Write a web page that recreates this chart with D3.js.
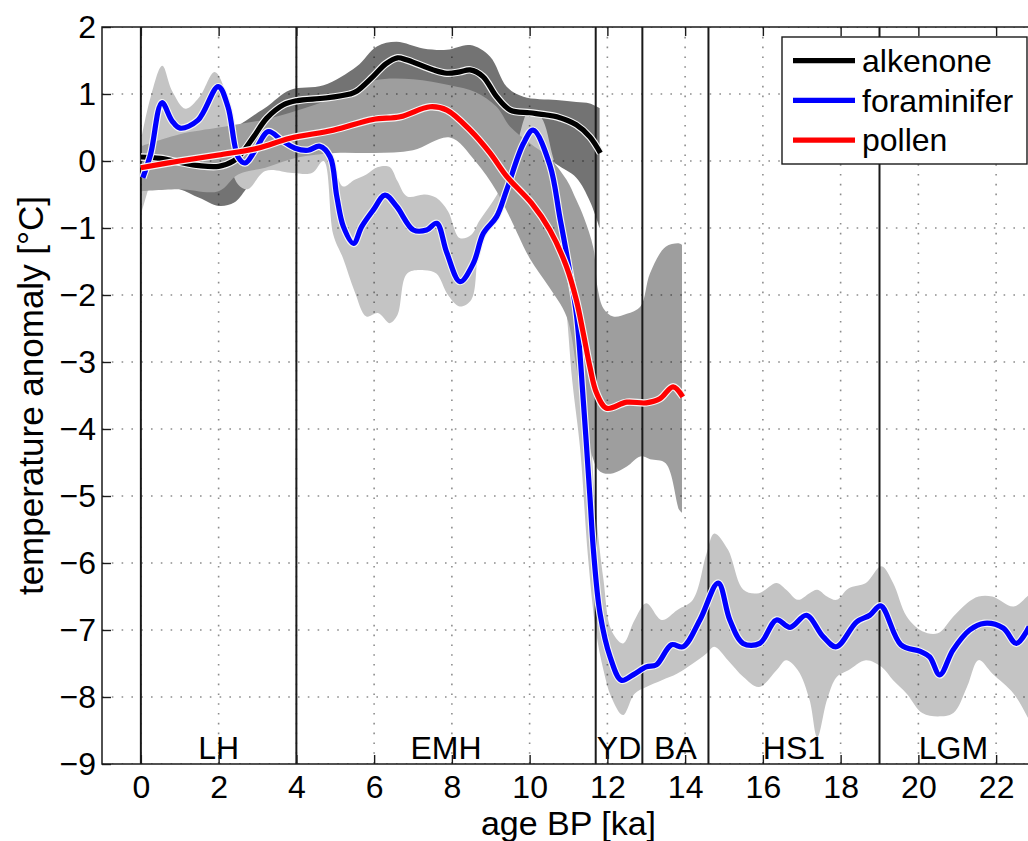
<!DOCTYPE html>
<html>
<head>
<meta charset="utf-8">
<script src="https://cdn.jsdelivr.net/npm/d3@7"></script>
<style>
  body { margin: 0; background: #fff; }
  svg { display: block; }
  text { font-family: "Liberation Sans", Arial, Helvetica, sans-serif; fill: #000; }
</style>
</head>
<body>
<svg id="chart" width="1028" height="841"></svg>
<script>
// ---- axis ticks ----
const xTicks = [0, 2, 4, 6, 8, 10, 12, 14, 16, 18, 20, 22];
const yTicks = [-9, -8, -7, -6, -5, -4, -3, -2, -1, 0, 1, 2];

// ---- climate periods ----
const periodBounds = [0, 4, 11.7, 12.9, 14.6, 19];
const periodNames = ["LH", "EMH", "YD", "BA", "HS1", "LGM"];
const periodCenters = [2, 7.85, 12.3, 13.75, 16.8, 20.9];

// ---- alkenone record (age ka BP, anomaly °C) ----
const alkAge  = [0, 0.5, 1.0, 1.5, 2.0, 2.38, 2.6, 2.9, 3.24, 3.67, 4.01, 4.74, 5.38, 5.55, 5.97, 6.3, 6.6, 6.83, 7.2, 7.52, 7.87, 8.2, 8.47, 8.8, 9.15, 9.5, 10.0, 10.4, 10.7, 11.2, 11.55, 11.82];
const alkTemp = [0.06, 0.04, -0.02, -0.07, -0.08, 0.0, 0.12, 0.36, 0.64, 0.84, 0.9, 0.94, 1.0, 1.04, 1.26, 1.45, 1.54, 1.51, 1.43, 1.36, 1.31, 1.33, 1.36, 1.26, 0.96, 0.76, 0.72, 0.69, 0.66, 0.54, 0.36, 0.12];
const alkBandAge = [0, 0.5, 1, 1.5, 2, 2.4, 2.7, 3.0, 3.24, 3.84, 4.7, 5.55, 6.07, 6.58, 7.26, 7.87, 8.47, 8.98, 9.41, 9.84, 10.69, 11.2, 11.55, 11.8];
const alkBandHi  = [0.28, 0.3, 0.35, 0.4, 0.45, 0.5, 0.6, 0.72, 0.81, 1.06, 1.13, 1.41, 1.71, 1.78, 1.68, 1.66, 1.73, 1.56, 1.11, 0.96, 0.91, 0.88, 0.86, 0.79];
const alkBandLo  = [-0.35, -0.38, -0.42, -0.55, -0.67, -0.62, -0.42, -0.15, 0.1, 0.4, 0.5, 0.6, 0.8, 0.95, 0.95, 0.95, 0.9, 0.55, 0.4, 0.3, -0.05, -0.25, -0.6, -1.0];

// ---- foraminifer record ----
const forAge  = [0.05, 0.25, 0.54, 0.8, 1.01, 1.47, 1.99, 2.24, 2.5, 2.68, 2.94, 3.28, 3.62, 3.97, 4.3, 4.6, 4.87, 5.04, 5.21, 5.47, 5.68, 5.98, 6.28, 6.58, 7.01, 7.35, 7.61, 7.87, 8.21, 8.55, 8.81, 9.15, 9.41, 9.84, 10.09, 10.52, 10.78, 11.04, 11.21, 11.38, 11.55, 11.64, 11.81, 12.07, 12.36, 12.66, 13.0, 13.26, 13.65, 13.95, 14.38, 14.85, 15.15, 15.49, 15.92, 16.35, 16.7, 17.12, 17.55, 17.89, 18.41, 18.75, 19.03, 19.55, 20.05, 20.29, 20.55, 20.89, 21.32, 21.7, 22.18, 22.52, 22.85];
const forTemp = [-0.25, 0.1, 0.87, 0.6, 0.49, 0.61, 1.11, 0.81, 0.06, -0.03, 0.16, 0.44, 0.31, 0.19, 0.16, 0.22, 0.06, -0.53, -0.98, -1.23, -0.98, -0.73, -0.51, -0.68, -1.03, -1.03, -0.93, -1.37, -1.8, -1.53, -1.08, -0.83, -0.43, 0.26, 0.46, -0.06, -0.85, -1.68, -2.32, -3.57, -5.0, -5.8, -6.75, -7.4, -7.75, -7.67, -7.55, -7.52, -7.22, -7.25, -6.85, -6.3, -6.85, -7.2, -7.2, -6.85, -6.96, -6.78, -7.1, -7.25, -6.88, -6.78, -6.64, -7.22, -7.32, -7.4, -7.67, -7.3, -7.0, -6.9, -6.97, -7.2, -6.95];
const forBandAge = [0, 0.25, 0.55, 0.8, 1.15, 1.5, 1.9, 2.2, 2.5, 2.75, 3.2, 3.9, 4.4, 4.7, 4.95, 5.2, 5.5, 5.8, 6.1, 6.4, 6.6, 6.85, 7.3, 7.6, 7.9, 8.2, 8.5, 8.7, 9.0, 9.3, 9.65, 10.0, 10.3, 10.6, 10.9, 11.1, 11.3, 11.5, 11.7, 11.9, 12.1, 12.4, 12.7, 13.0, 13.4, 13.8, 14.2, 14.55, 14.75, 15.1, 15.5, 15.9, 16.35, 16.6, 16.9, 17.2, 17.4, 17.65, 17.9, 18.2, 18.65, 19.05, 19.35, 19.7, 20.1, 20.5, 20.9, 21.25, 21.55, 21.9, 22.45, 22.8, 23.0];
const forBandHi  = [0.3, 0.95, 1.42, 1.05, 0.78, 0.95, 1.33, 1.0, 0.35, 0.4, 0.6, 0.5, 0.45, 0.45, 0.0, -0.38, -0.28, -0.2, -0.09, -0.09, -0.3, -0.53, -0.5, -0.55, -0.75, -1.15, -1.1, -0.9, -0.65, -0.35, 0.2, 0.76, 0.65, 0.06, -0.6, -1.2, -2.2, -3.4, -5.2, -6.25, -7.0, -7.2, -6.85, -6.6, -6.85, -6.7, -6.55, -5.86, -5.56, -5.8, -6.4, -6.45, -6.3, -6.4, -6.55, -6.45, -6.4, -6.5, -6.55, -6.38, -6.3, -6.05, -6.3, -6.8, -7.02, -7.05, -6.8, -6.6, -6.5, -6.5, -6.65, -6.5, -6.4];
const forBandLo  = [-0.8, -0.3, 0.3, 0.3, 0.2, 0.3, 0.4, 0.1, -0.35, -0.42, -0.15, -0.18, -0.18, 0.0, -1.1, -1.45, -1.95, -2.32, -2.27, -2.42, -2.3, -1.68, -1.63, -1.68, -2.0, -2.17, -2.07, -1.3, -0.88, -0.55, -0.05, 0.1, -0.3, -1.0, -2.0, -3.3, -4.3, -5.9, -7.0, -7.6, -8.0, -8.27, -7.95, -7.85, -7.75, -7.65, -7.5, -7.35, -7.25, -7.45, -7.7, -7.85, -7.6, -7.45, -7.6, -8.04, -8.6, -8.04, -7.7, -7.6, -7.45, -7.55, -7.75, -7.95, -8.24, -8.29, -8.24, -7.85, -7.45, -7.65, -7.95, -8.29, -8.5];

// ---- pollen record ----
const polAge  = [0, 1, 2, 3, 3.84, 4.95, 5.97, 6.67, 7.44, 7.87, 8.47, 8.98, 9.41, 10.05, 10.52, 10.95, 11.2, 11.38, 11.55, 11.72, 11.98, 12.5, 13.0, 13.35, 13.69, 13.94];
const polTemp = [-0.1, 0.0, 0.09, 0.19, 0.34, 0.46, 0.62, 0.66, 0.81, 0.76, 0.46, 0.12, -0.23, -0.63, -1.03, -1.58, -2.07, -2.57, -3.07, -3.46, -3.69, -3.6, -3.61, -3.55, -3.37, -3.52];
const polBandAge = [0, 1, 2, 2.5, 3.2, 4, 5, 6, 7, 7.95, 8.6, 9.15, 9.5, 10, 10.5, 10.95, 11.2, 11.4, 11.64, 11.75, 11.9, 12.15, 12.5, 12.85, 13.1, 13.5, 13.85, 13.92];
const polBandHi  = [0.22, 0.4, 0.5, 0.55, 0.62, 0.75, 0.95, 1.2, 1.22, 1.13, 1.03, 0.81, 0.51, 0.27, 0.05, -0.28, -0.58, -0.85, -1.3, -1.9, -2.2, -2.32, -2.28, -2.17, -1.67, -1.28, -1.23, -1.25];
const polBandLo  = [-0.45, -0.42, -0.45, -0.2, -0.1, 0.05, 0.12, 0.12, 0.16, 0.35, 0.0, -0.45, -0.85, -1.45, -1.88, -2.32, -3.07, -3.9, -4.46, -4.6, -4.66, -4.66, -4.56, -4.41, -4.45, -4.51, -5.21, -5.25];

// ---- legend entries ----
const seriesNames  = ["alkenone", "foraminifer", "pollen"];
const seriesColors = ["#000000", "#0000ff", "#ff0000"];

const svg = d3.select("#chart");
const x = d3.scaleLinear().domain([-1, 23]).range([102, 1035]);
const y = d3.scaleLinear().domain([-9, 2]).range([764, 27]);
const [x0, x1] = x.range();
const [yb, yt] = y.range();

svg.append("defs").append("clipPath").attr("id", "plot")
  .append("rect").attr("x", x0).attr("y", yt).attr("width", x1 - x0).attr("height", yb - yt);

const plot = svg.append("g").attr("clip-path", "url(#plot)");
const smooth = d3.curveCatmullRom.alpha(0.5);

function band(ages, lo, hi, fill) {
  const rows = ages.map((a, i) => ({ a, lo: lo[i], hi: hi[i] }));
  plot.append("path")
    .attr("d", d3.area().x(d => x(d.a)).y0(d => y(d.lo)).y1(d => y(d.hi)).curve(smooth)(rows))
    .attr("fill", fill);
}

// uncertainty envelopes
band(alkBandAge, alkBandLo, alkBandHi, "#737373");
band(forBandAge, forBandLo, forBandHi, "#c4c4c4");
band(polBandAge, polBandLo, polBandHi, "#9e9e9e");

// dotted grid
const grid = plot.append("g").attr("stroke", "#000").attr("stroke-opacity", 0.45)
  .attr("stroke-width", 1.6).attr("stroke-dasharray", "1.6,8.2");
grid.selectAll(".gx").data(xTicks).join("line")
  .attr("x1", d => x(d)).attr("x2", d => x(d)).attr("y1", yt).attr("y2", yb);
grid.selectAll(".gy").data(yTicks).join("line")
  .attr("y1", d => y(d)).attr("y2", d => y(d)).attr("x1", x0).attr("x2", x1);

// period boundaries
plot.append("g").selectAll("line").data(periodBounds).join("line")
  .attr("x1", d => x(d)).attr("x2", d => x(d)).attr("y1", yt).attr("y2", yb)
  .attr("stroke", "#1a1a1a").attr("stroke-width", 2);

// temperature curves
function curve(ages, temps, color) {
  const pts = ages.map((a, i) => [x(a), y(temps[i])]);
  const d = d3.line().curve(smooth)(pts);
  plot.append("path").attr("d", d).attr("fill", "none")
    .attr("stroke", "#f4f4f4").attr("stroke-width", 7.5).attr("stroke-linejoin", "round");
  plot.append("path").attr("d", d).attr("fill", "none")
    .attr("stroke", color).attr("stroke-width", 5.2).attr("stroke-linejoin", "round");
}
curve(alkAge, alkTemp, seriesColors[0]);
curve(forAge, forTemp, seriesColors[1]);
curve(polAge, polTemp, seriesColors[2]);

// period labels
svg.append("g").selectAll("text").data(periodNames).join("text")
  .attr("x", (d, i) => x(periodCenters[i])).attr("y", 759)
  .attr("text-anchor", "middle").attr("font-size", 32).text(d => d);

// axes
const axisStyle = g => {
  g.select(".domain").remove();
  g.selectAll(".tick line").attr("stroke", "#1a1a1a").attr("stroke-width", 1.4);
  g.selectAll(".tick text").attr("font-size", 32).attr("font-family", "Liberation Sans, Arial, sans-serif").attr("fill", "#000");
};
svg.append("g").attr("transform", `translate(0,${yb})`)
  .call(d3.axisBottom(x).tickValues(xTicks).tickSize(-9).tickPadding(11)).call(axisStyle);
svg.append("g").attr("transform", `translate(0,${yt})`)
  .call(d3.axisTop(x).tickValues(xTicks).tickSize(-9).tickFormat("")).call(axisStyle);
svg.append("g").attr("transform", `translate(${x0},0)`)
  .call(d3.axisLeft(y).tickValues(yTicks).tickSize(-9).tickPadding(6)).call(axisStyle);

// frame
svg.append("path")
  .attr("d", `M${x1},${yt}H${x0}V${yb}H${x1}`)
  .attr("fill", "none").attr("stroke", "#1a1a1a").attr("stroke-width", 1.5);

// axis titles
svg.append("text").attr("x", (x0 + x1) / 2).attr("y", 835)
  .attr("text-anchor", "middle").attr("font-size", 34).text("age BP [ka]");
svg.append("text").attr("transform", `translate(43,${(yt + yb) / 2}) rotate(-90)`)
  .attr("text-anchor", "middle").attr("font-size", 35).text("temperature anomaly [°C]");

// legend
const lg = svg.append("g");
lg.append("rect").attr("x", 782).attr("y", 37).attr("width", 245).attr("height", 127)
  .attr("fill", "#fff").attr("stroke", "#1a1a1a").attr("stroke-width", 1.4);
const items = lg.selectAll("g").data(seriesNames).join("g")
  .attr("transform", (d, i) => `translate(0,${60.7 + i * 39.7})`);
items.append("line").attr("x1", 793).attr("x2", 855)
  .attr("stroke", (d, i) => seriesColors[i]).attr("stroke-width", 5.2);
items.append("text").attr("x", 862).attr("dy", "0.35em").attr("font-size", 32).text(d => d);
</script>
</body>
</html>
